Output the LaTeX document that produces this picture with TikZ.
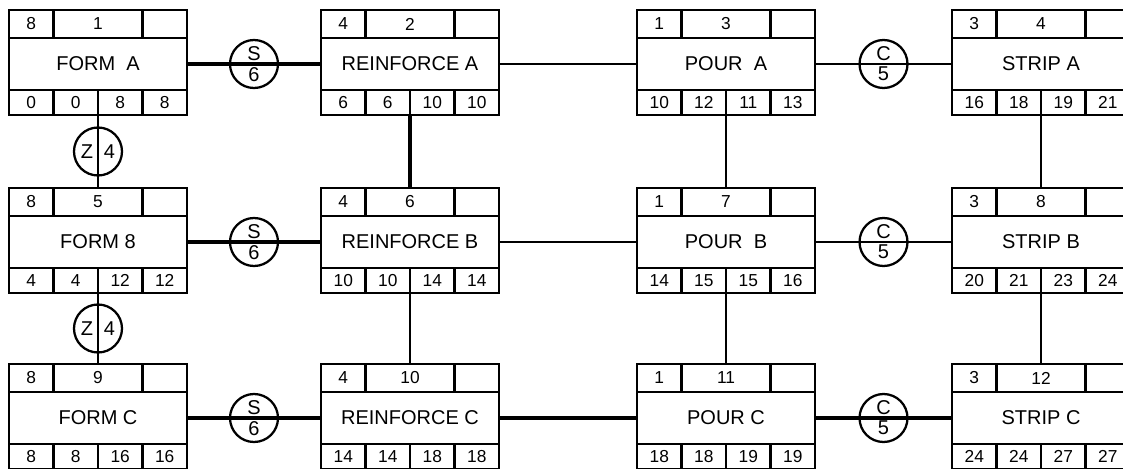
\documentclass[tikz,border=0pt]{standalone}
\usepackage{fontspec}
\setmainfont{Liberation Sans}
\usetikzlibrary{calc,positioning,shapes.multipart}

% time cells above and below an activity box
\newcommand{\cells}[7]{%
  \node[cell,toprow,quarter,anchor=south west] (#1-t1) at (#1.north west) {#2};
  \node[cell,toprow,half,anchor=south west] (#1-t2) at (#1-t1.south east) {#3};
  \node[cell,toprow,quarter,anchor=south west] (#1-t3) at (#1-t2.south east) {};
  \node[cell,botrow,quarter,anchor=north west] (#1-b1) at (#1.south west) {#4};
  \node[cell,botrow,quarter,anchor=north west] (#1-b2) at (#1-b1.north east) {#5};
  \node[cell,botrow,quarter,anchor=north west] (#1-b3) at (#1-b2.north east) {#6};
  \node[cell,botrow,quarter,anchor=north west] (#1-b4) at (#1-b3.north east) {#7};
}

\begin{document}
\begin{tikzpicture}[x=0.75pt,y=-0.75pt,
  task/.style={draw,line width=2.1pt,minimum width=133.5pt,minimum height=39pt,
    inner sep=0pt,outer sep=0pt,font=\fontsize{15}{17}\selectfont},
  cell/.style={draw,line width=2.1pt,inner sep=0pt,outer sep=0pt,
    font=\fontsize{13}{15}\selectfont},
  toprow/.style={minimum height=21pt},
  botrow/.style={minimum height=18.75pt},
  quarter/.style={minimum width=33.375pt},
  half/.style={minimum width=66.75pt},
  lag/.style={circle split,draw,line width=1.7pt,minimum size=36pt,inner sep=1.5pt,
    font=\fontsize{15}{16}\selectfont},
  zlag/.style={circle,draw,line width=1.7pt,minimum size=36pt,inner sep=0pt,
    font=\fontsize{15}{16}\selectfont},
  crit/.style={line width=3pt},
  mid/.style={line width=2.2pt},
  link/.style={line width=1.6pt}]
  \useasboundingbox (0,0) rectangle (1123,468);

  % activity boxes
  \node[task] (fa) at (98,64) {FORM\ \ A};
  \node[task] (ra) at (410,64) {REINFORCE\ A};
  \node[task] (pa) at (726,64) {POUR\ \ A};
  \node[task] (sa) at (1041,64) {STRIP\ A};
  \node[task] (fb) at (98,242) {FORM 8};
  \node[task] (rb) at (410,242) {REINFORCE\ B};
  \node[task] (pb) at (726,242) {POUR\ \ B};
  \node[task] (sb) at (1041,242) {STRIP\ B};
  \node[task] (fc) at (98,418) {FORM\ C};
  \node[task] (rc) at (410,418) {REINFORCE\ C};
  \node[task] (pc) at (726,418) {POUR\ C};
  \node[task] (sc) at (1041,418) {STRIP\ C};

  \cells{fa}{8}{1}{0}{0}{8}{8}
  \cells{ra}{4}{2}{6}{6}{10}{10}
  \cells{pa}{1}{3}{10}{12}{11}{13}
  \cells{sa}{3}{4}{16}{18}{19}{21}
  \cells{fb}{8}{5}{4}{4}{12}{12}
  \cells{rb}{4}{6}{10}{10}{14}{14}
  \cells{pb}{1}{7}{14}{15}{15}{16}
  \cells{sb}{3}{8}{20}{21}{23}{24}
  \cells{fc}{8}{9}{8}{8}{16}{16}
  \cells{rc}{4}{10}{14}{14}{18}{18}
  \cells{pc}{1}{11}{18}{18}{19}{19}
  \cells{sc}{3}{12}{24}{24}{27}{27}

  % horizontal links
  \draw[crit] (fa) -- node[lag] (s1) {S \nodepart{lower} 6} (ra);
  \draw[link] (ra) -- (pa);
  \draw[link] (pa) -- node[lag] (c1) {C \nodepart{lower} 5} (sa);
  \draw[crit] (fb) -- node[lag] (s2) {S \nodepart{lower} 6} (rb);
  \draw[link] (rb) -- (pb);
  \draw[link] (pb) -- node[lag] (c2) {C \nodepart{lower} 5} (sb);
  \draw[crit] (fc) -- node[lag] (s3) {S \nodepart{lower} 6} (rc);
  \draw[crit] (rc) -- (pc);
  \draw[crit] (pc) -- node[lag] (c3) {C \nodepart{lower} 5} (sc);

  % vertical links
  \draw[mid] (fa-b2.south east) -- node[zlag] (z1) {Z\hspace{8pt}4} (fb-t2.north);
  \draw[mid] (fb-b2.south east) -- node[zlag] (z2) {Z\hspace{8pt}4} (fc-t2.north);
  \draw[crit] (ra-b2.south east) -- (rb-t2.north);
  \draw[mid] (rb-b2.south east) -- (rc-t2.north);
  \draw[link] (pa-b2.south east) -- (pb-t2.north);
  \draw[link] (pb-b2.south east) -- (pc-t2.north);
  \draw[link] (sa-b2.south east) -- (sb-t2.north);
  \draw[link] (sb-b2.south east) -- (sc-t2.north);
\end{tikzpicture}
\end{document}
